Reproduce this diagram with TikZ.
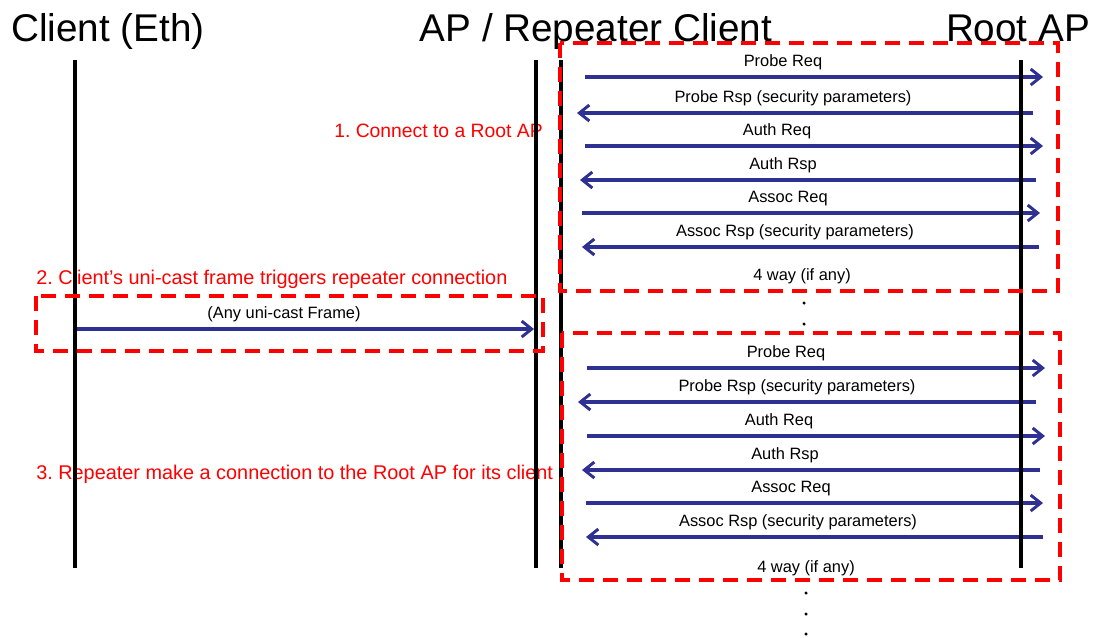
\documentclass[tikz,border=0pt]{standalone}
\usepackage{fontspec}
\setmainfont{Liberation Sans}
\usetikzlibrary{arrows.meta}
\definecolor{msgblue}{RGB}{46,49,146}
\definecolor{boxred}{RGB}{255,0,0}
\frenchspacing
\begin{document}
\begin{tikzpicture}[x=0.75pt,y=-0.75pt,
  life/.style={line width=2.3pt, black},
  msg/.style={line width=2.5pt, msgblue, -{Straight Barb[length=7.5pt,width=12pt,line width=2.2pt]}},
  lbl/.style={font=\fontsize{12.3}{14}\selectfont, inner sep=0pt, anchor=base},
  ttl/.style={font=\fontsize{29}{32}\selectfont, inner sep=0pt, anchor=base},
  note/.style={font=\fontsize{14.9}{17}\selectfont, text=boxred, inner sep=0pt, anchor=base west},
  phase/.style={draw=boxred, line width=2.3pt, dash pattern=on 11pt off 7pt},
  dotn/.style={circle, fill=black, inner sep=0pt, minimum size=2.6pt}]
\useasboundingbox (0,0) rectangle (1099,637);

% titles
\node[ttl] (tclient) at (108,41) {Client (Eth)};
\node[ttl] (tap) at (596,41) {AP / Repeater Client};
\node[ttl] (troot) at (1018,41) {Root AP};

% notes
\node[note, font=\fontsize{14.5}{17}\selectfont] (n1) at (334,137) {1. Connect to a Root AP};
\node[note] (n2) at (36,284) {2. Client’s uni-cast frame triggers repeater connection};
\node[note] (n3) at (36,479) {3. Repeater make a connection to the Root AP for its client};

% message end points
\coordinate (a1s) at (585,77);  \coordinate (a1e) at (1043,77);
\coordinate (a2s) at (1033,113); \coordinate (a2e) at (577,113);
\coordinate (a3s) at (585,146); \coordinate (a3e) at (1043,146);
\coordinate (a4s) at (1036,180); \coordinate (a4e) at (580,180);
\coordinate (a5s) at (582,213); \coordinate (a5e) at (1040,213);
\coordinate (a6s) at (1039,247); \coordinate (a6e) at (582,247);
\coordinate (b1s) at (587,368); \coordinate (b1e) at (1045,368);
\coordinate (b2s) at (1036,402); \coordinate (b2e) at (578,402);
\coordinate (b3s) at (587,436); \coordinate (b3e) at (1045,436);
\coordinate (b4s) at (1040,470); \coordinate (b4e) at (582,470);
\coordinate (b5s) at (586,503); \coordinate (b5e) at (1043,503);
\coordinate (b6s) at (1043,537); \coordinate (b6e) at (586,537);
\coordinate (us) at (75,329); \coordinate (ue) at (534,329);

% labels
\node[lbl] (l1) at (783,66.5) {Probe Req};
\node[lbl] (l2) at (793,102.5) {Probe Rsp (security parameters)};
\node[lbl] (l3) at (777,135.5) {Auth Req};
\node[lbl] (l4) at (783,169.5) {Auth Rsp};
\node[lbl] (l5) at (788,202.5) {Assoc Req};
\node[lbl] (l6) at (795,236.5) {Assoc Rsp (security parameters)};
\node[lbl] (l7) at (802,280) {4 way (if any)};
\node[lbl] (m1) at (786,357.5) {Probe Req};
\node[lbl] (m2) at (797,391.5) {Probe Rsp (security parameters)};
\node[lbl] (m3) at (779,425.5) {Auth Req};
\node[lbl] (m4) at (785,459.5) {Auth Rsp};
\node[lbl] (m5) at (791,492.5) {Assoc Req};
\node[lbl] (m6) at (798,526.5) {Assoc Rsp (security parameters)};
\node[lbl] (m7) at (806,572) {4 way (if any)};
\node[lbl] (lu) at (284,318.5) {(Any uni-cast Frame)};

% messages
\draw[msg] (a1s) -- (a1e);
\draw[msg] (a2s) -- (a2e);
\draw[msg] (a3s) -- (a3e);
\draw[msg] (a4s) -- (a4e);
\draw[msg] (a5s) -- (a5e);
\draw[msg] (a6s) -- (a6e);
\draw[msg] (b1s) -- (b1e);
\draw[msg] (b2s) -- (b2e);
\draw[msg] (b3s) -- (b3e);
\draw[msg] (b4s) -- (b4e);
\draw[msg] (b5s) -- (b5e);
\draw[msg] (b6s) -- (b6e);
\draw[msg] (us) -- (ue);

% lifelines
\coordinate (c1t) at (75,60);   \coordinate (c1b) at (75,568);
\coordinate (c2t) at (536,60);  \coordinate (c2b) at (536,568);
\coordinate (c3t) at (561,60);  \coordinate (c3b) at (561,568);
\coordinate (c4t) at (1021,60); \coordinate (c4b) at (1021,568);
\draw[life] (c1t) -- (c1b);
\draw[life] (c2t) -- (c2b);
\draw[life] (c3t) -- (c3b);
\draw[life] (c4t) -- (c4b);

% dots
\node[dotn] (d1) at (804,303) {};
\node[dotn] (d2) at (804,324) {};
\node[dotn] (d3) at (806,593) {};
\node[dotn] (d4) at (806,614) {};
\node[dotn] (d5) at (806,634) {};

% phase boxes
\draw[phase] (560,43) rectangle (1058,291);
\draw[phase] (36,296) rectangle (543,351);
\draw[phase] (562,333) rectangle (1060,580);
\end{tikzpicture}
\end{document}
